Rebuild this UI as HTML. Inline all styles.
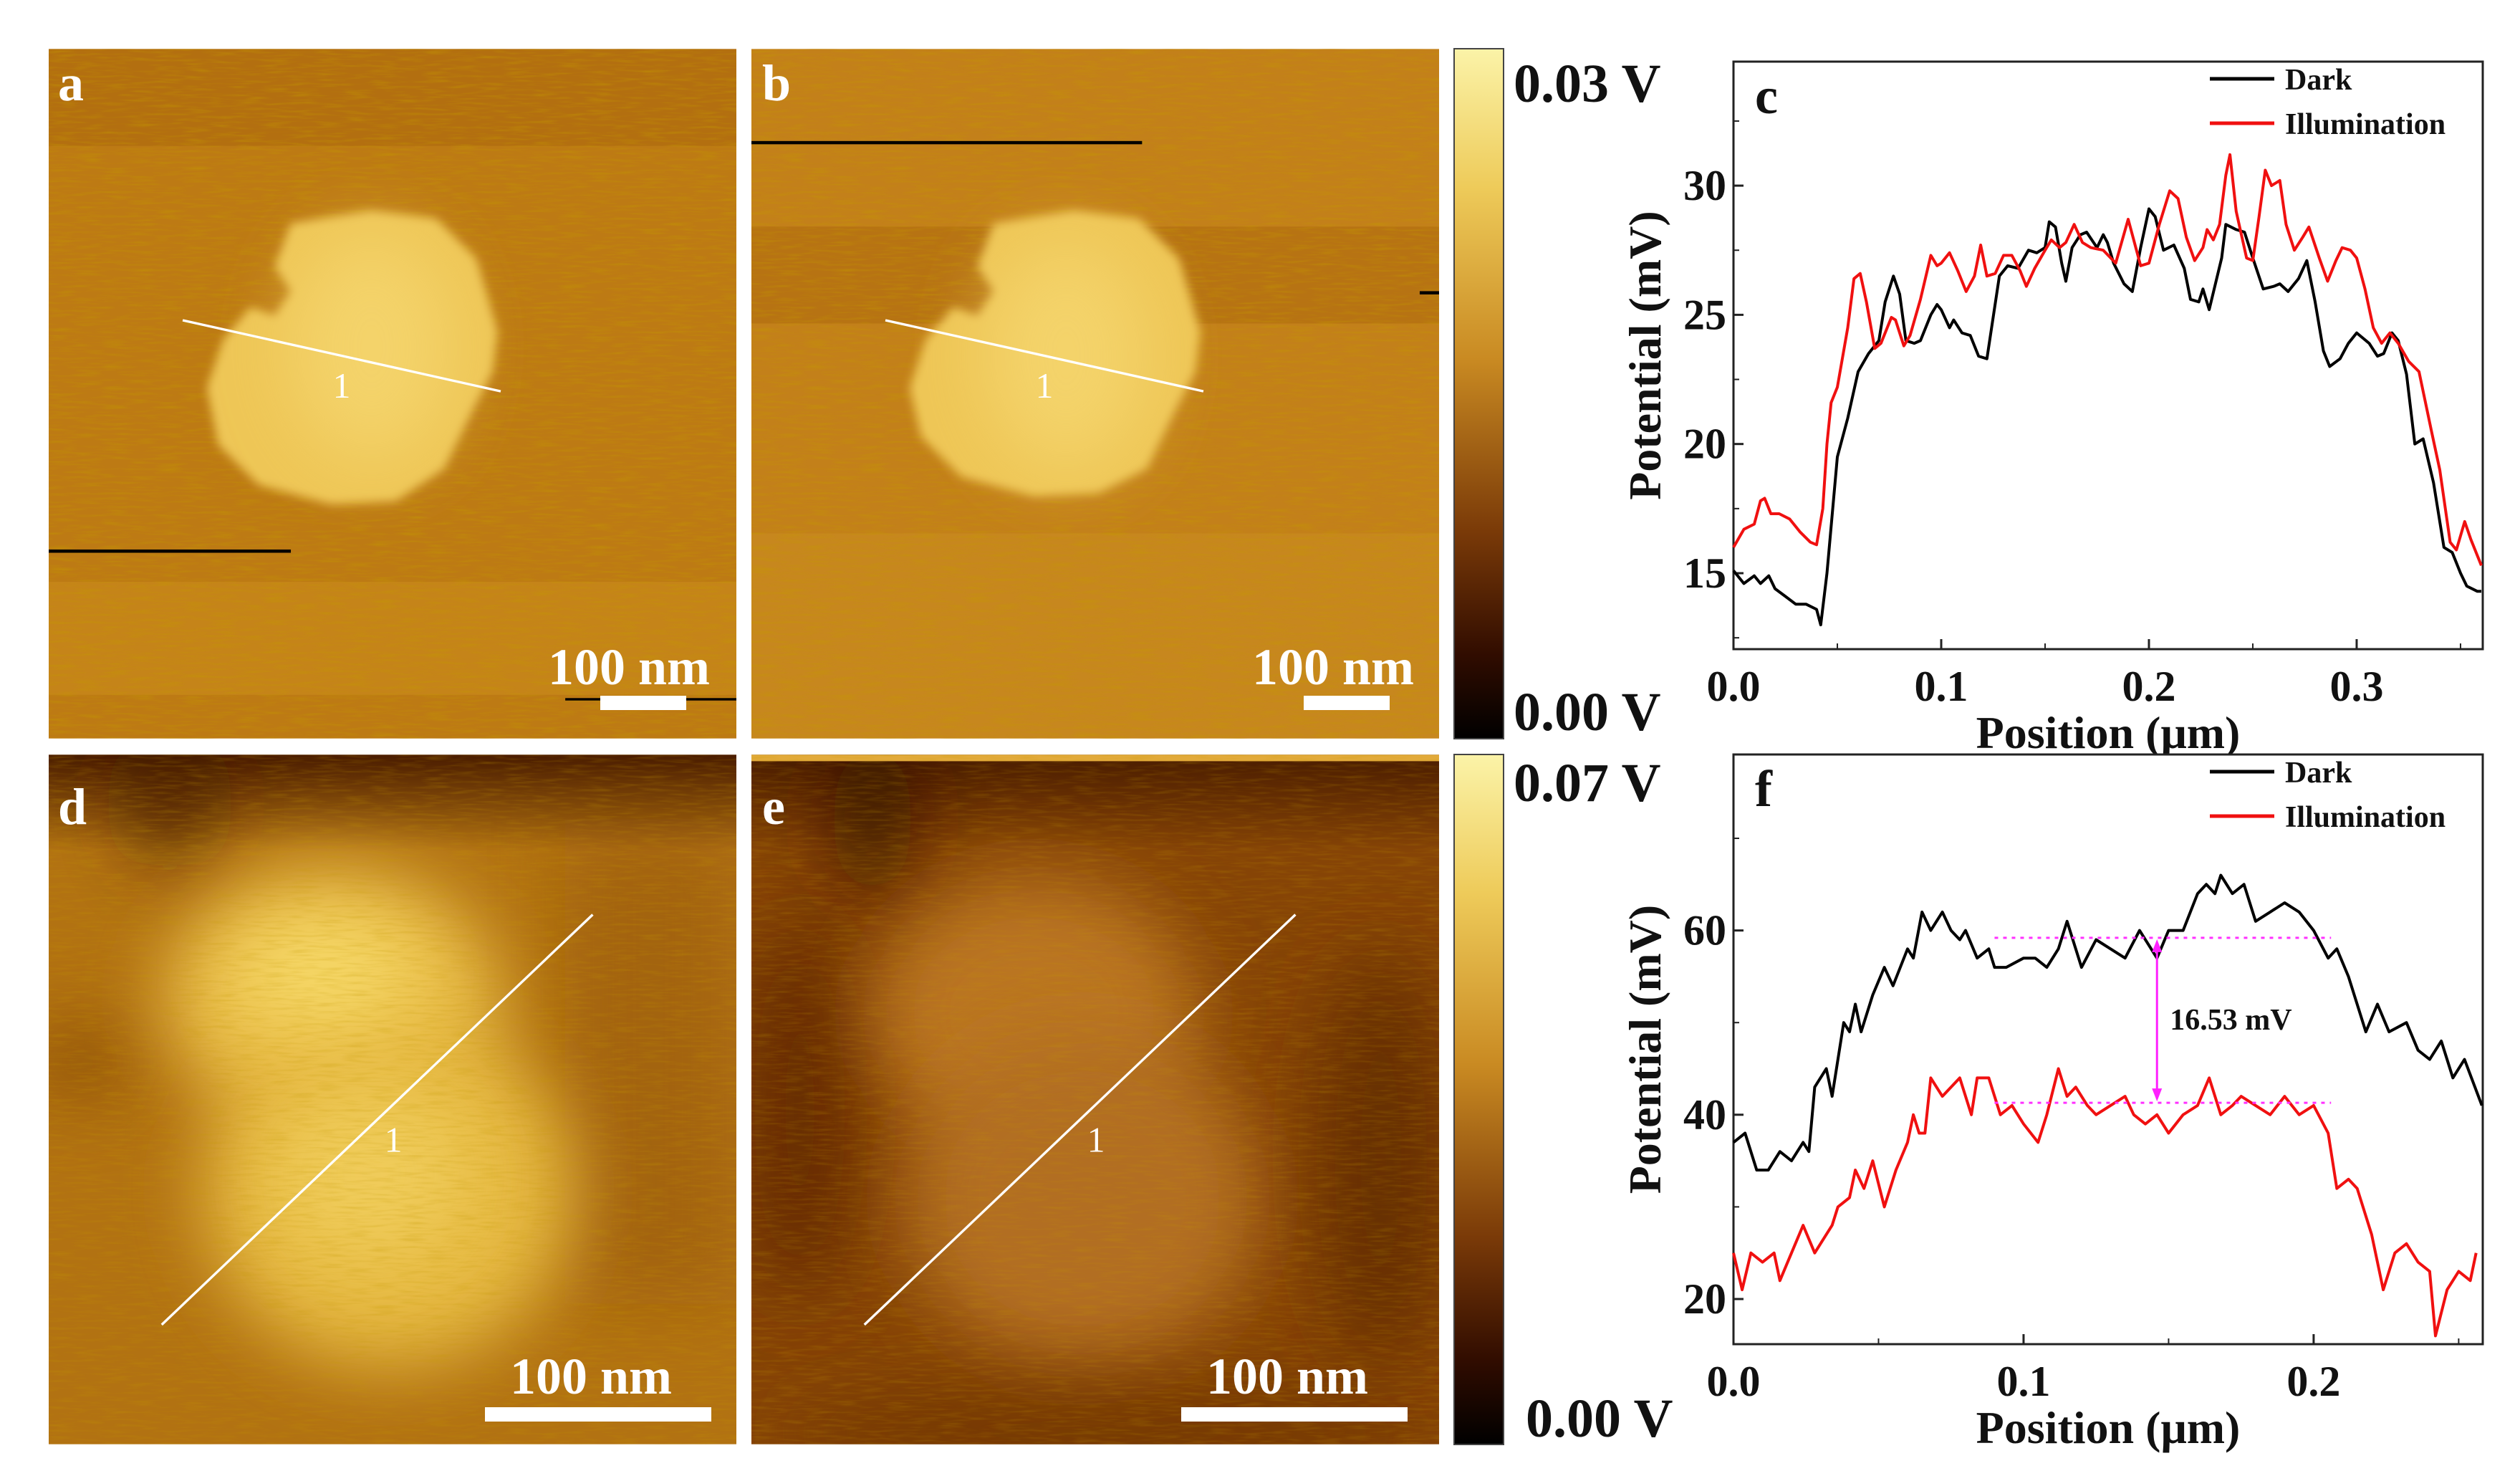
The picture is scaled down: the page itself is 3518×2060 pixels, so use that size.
<!DOCTYPE html>
<html><head><meta charset="utf-8"><style>
html,body{margin:0;padding:0;background:#fff;}
svg{display:block;font-family:"Liberation Serif",serif;font-weight:bold;}
</style></head><body>
<svg id="root" width="3518" height="2060" viewBox="0 0 3518 2060" xmlns="http://www.w3.org/2000/svg">
<defs>
<filter id="soft" x="-20%" y="-20%" width="140%" height="140%"><feGaussianBlur stdDeviation="3"/></filter>
<filter id="vsoft" x="-100%" y="-100%" width="300%" height="300%"><feGaussianBlur stdDeviation="22"/></filter>
<filter id="streak" x="0" y="0" width="100%" height="100%">
<feTurbulence type="fractalNoise" baseFrequency="0.06 0.6" numOctaves="2" seed="3"/>
<feColorMatrix type="matrix" values="0 0 0 0 0.55  0 0 0 0 0.32  0 0 0 0 0  0 0 0 1.6 -0.7"/>
</filter>
<linearGradient id="cbar" x1="0" y1="0" x2="0" y2="1">
<stop offset="0" stop-color="#fbf3a8"/><stop offset="0.2" stop-color="#eecb5a"/>
<stop offset="0.45" stop-color="#c98a22"/><stop offset="0.7" stop-color="#7a3a08"/>
<stop offset="0.88" stop-color="#300c00"/><stop offset="1" stop-color="#000"/>
</linearGradient>
<linearGradient id="topdarkD" x1="0" y1="0" x2="0" y2="1">
<stop offset="0" stop-color="#4a1c00"/><stop offset="1" stop-color="#4a1c00" stop-opacity="0"/>
</linearGradient>
</defs>

<!-- Panel a -->
<g>
<svg x="68" y="68" width="960" height="963" viewBox="0 0 426 427">
<rect width="426" height="427" fill="#bd7a14"/>
<rect y="0" width="426" height="60" fill="#a9640c" opacity="0.5"/>
<rect y="330" width="426" height="70" fill="#c98a1c" opacity="0.6"/>
<rect width="426" height="427" filter="url(#streak)" opacity="0.6"/>
<path d="M150,108 L200,100 L240,105 L265,130 L278,175 L275,200 L262,225 L245,260 L215,280 L175,282 L130,270 L105,245 L98,210 L108,180 L125,160 L140,165 L150,150 L140,135 Z" fill="#eec657" filter="url(#soft)"/>
<ellipse cx="200" cy="185" rx="50" ry="70" fill="#f8dc78" opacity="0.6" filter="url(#vsoft)"/>
<rect x="0" y="310" width="150" height="2" fill="#000"/>
<line x1="83" y1="168" x2="280" y2="212" stroke="#fff" stroke-width="1.5"/>
<text x="176" y="216" font-size="22" fill="#fff" font-weight="normal">1</text>
<rect x="320" y="402" width="106" height="1.5" fill="#000"/>
</svg>
<text x="81" y="140" font-size="72" fill="#fff">a</text>
<text x="765" y="955" font-size="72" fill="#fff">100 nm</text>
<rect x="838" y="971" width="120" height="20" fill="#fff"/>
</g>

<!-- Panel b -->
<g>
<svg x="1049" y="68" width="960" height="963" viewBox="0 0 426 427">
<rect width="426" height="427" fill="#c3801a"/>
<rect y="110" width="426" height="60" fill="#a9640c" opacity="0.45"/>
<rect y="300" width="426" height="127" fill="#cc8e22" opacity="0.5"/>
<rect width="426" height="427" filter="url(#streak)" opacity="0.6"/>
<path d="M150,108 L200,100 L240,105 L265,130 L278,175 L275,200 L262,225 L245,260 L215,275 L175,277 L130,265 L105,240 L98,210 L108,180 L125,160 L140,165 L150,150 L140,135 Z" fill="#eec657" filter="url(#soft)"/>
<ellipse cx="195" cy="190" rx="50" ry="70" fill="#f8dc78" opacity="0.6" filter="url(#vsoft)"/>
<rect x="0" y="57" width="242" height="2" fill="#000"/>
<rect x="414" y="150" width="12" height="2" fill="#000"/>
<line x1="83" y1="168" x2="280" y2="212" stroke="#fff" stroke-width="1.5"/>
<text x="176" y="216" font-size="22" fill="#fff" font-weight="normal">1</text>
</svg>
<text x="1064" y="140" font-size="72" fill="#fff">b</text>
<text x="1748" y="955" font-size="72" fill="#fff">100 nm</text>
<rect x="1820" y="971" width="120" height="20" fill="#fff"/>
</g>

<!-- Panel d -->
<g>
<svg x="68" y="1053" width="960" height="963" viewBox="0 0 426 427">
<rect width="426" height="427" fill="#b27212"/>
<rect x="320" y="40" width="106" height="300" fill="#9a5a0a" opacity="0.6" filter="url(#vsoft)"/>
<rect y="0" width="426" height="60" fill="url(#topdarkD)"/>
<ellipse cx="75" cy="30" rx="25" ry="40" fill="#3a1200" opacity="0.7" filter="url(#vsoft)"/>
<ellipse cx="20" cy="190" rx="30" ry="25" fill="#7a3e06" opacity="0.6" filter="url(#vsoft)"/>
<ellipse cx="175" cy="150" rx="105" ry="80" fill="#e9bd48" filter="url(#vsoft)"/>
<ellipse cx="210" cy="270" rx="115" ry="110" fill="#e6b943" filter="url(#vsoft)"/>
<ellipse cx="170" cy="135" rx="55" ry="35" fill="#f6d868" filter="url(#vsoft)"/>
<ellipse cx="200" cy="260" rx="60" ry="55" fill="#f2d060" opacity="0.8" filter="url(#vsoft)"/>
<rect width="426" height="427" filter="url(#streak)" opacity="0.35"/>
<line x1="70" y1="353" x2="337" y2="99" stroke="#fff" stroke-width="1.5"/>
<text x="208" y="246" font-size="22" fill="#fff" font-weight="normal">1</text>
</svg>
<text x="81" y="1150" font-size="72" fill="#fff">d</text>
<text x="712" y="1945" font-size="72" fill="#fff">100 nm</text>
<rect x="677" y="1964" width="316" height="20" fill="#fff"/>
</g>

<!-- Panel e -->
<g>
<svg x="1049" y="1053" width="960" height="963" viewBox="0 0 426 427">
<rect width="426" height="427" fill="#864406"/>
<rect y="0" width="426" height="60" fill="url(#topdarkD)"/>
<ellipse cx="30" cy="220" rx="35" ry="120" fill="#5a2404" opacity="0.7" filter="url(#vsoft)"/>
<ellipse cx="75" cy="40" rx="25" ry="50" fill="#2a0c00" opacity="0.7" filter="url(#vsoft)"/>
<ellipse cx="175" cy="160" rx="100" ry="85" fill="#ba7424" filter="url(#vsoft)"/>
<ellipse cx="205" cy="275" rx="110" ry="105" fill="#b26e20" filter="url(#vsoft)"/>
<ellipse cx="390" cy="250" rx="40" ry="130" fill="#5a2604" opacity="0.7" filter="url(#vsoft)"/>
<ellipse cx="220" cy="420" rx="200" ry="30" fill="#6a3004" opacity="0.6" filter="url(#vsoft)"/>
<rect y="0" width="426" height="4" fill="#e2aa3a"/>
<rect width="426" height="427" filter="url(#streak)" opacity="0.3"/>
<line x1="70" y1="353" x2="337" y2="99" stroke="#fff" stroke-width="1.5"/>
<text x="208" y="246" font-size="22" fill="#fff" font-weight="normal">1</text>
</svg>
<text x="1064" y="1150" font-size="72" fill="#fff">e</text>
<text x="1684" y="1945" font-size="72" fill="#fff">100 nm</text>
<rect x="1649" y="1964" width="316" height="20" fill="#fff"/>
</g>

<!-- Colorbars -->
<rect x="2030" y="68" width="69" height="963" fill="url(#cbar)" stroke="#444" stroke-width="2"/>
<rect x="2030" y="1053" width="69" height="963" fill="url(#cbar)" stroke="#444" stroke-width="2"/>
<text x="2113" y="142" font-size="76" fill="#111">0.03 V</text>
<text x="2113" y="1019" font-size="76" fill="#111">0.00 V</text>
<text x="2113" y="1118" font-size="76" fill="#111">0.07 V</text>
<text x="2130" y="2005" font-size="76" fill="#111">0.00 V</text>

<g id="chartC"></g>
<g id="chartF"></g>
</svg>
<script>
const cDarkX=[0,.005,.01,.013,.017,.02,.025,.03,.035,.04,.042,.045,.05,.055,.06,.065,.07,.073,.077,.08,.083,.087,.09,.095,.098,.1,.104,.106,.11,.114,.118,.122,.128,.132,.137,.142,.146,.15,.152,.155,.158,.16,.163,.167,.17,.175,.178,.18,.183,.188,.192,.196,.2,.203,.207,.212,.217,.22,.224,.226,.229,.235,.237,.242,.246,.25,.255,.26,.263,.267,.272,.276,.28,.284,.287,.292,.296,.3,.306,.31,.313,.317,.32,.324,.328,.332,.337,.342,.346,.35,.353,.358,.36];
const cDarkY=[15.1,14.6,14.9,14.6,14.9,14.4,14.1,13.8,13.8,13.6,13.0,15,19.5,21,22.8,23.5,24,25.5,26.5,25.8,24,23.9,24,25,25.4,25.2,24.5,24.8,24.3,24.2,23.4,23.3,26.5,26.9,26.8,27.5,27.4,27.6,28.6,28.4,27.0,26.3,27.6,28.1,28.2,27.6,28.1,27.8,27.0,26.2,25.9,27.6,29.1,28.8,27.5,27.7,26.8,25.6,25.5,26.0,25.2,27.2,28.5,28.3,28.2,27.2,26.0,26.1,26.2,25.9,26.4,27.1,25.5,23.6,23.0,23.3,23.9,24.3,23.9,23.4,23.5,24.3,24.0,22.7,20.0,20.2,18.5,16.0,15.8,15.0,14.5,14.3,14.3];
const cIllX=[0,.005,.01,.013,.015,.018,.022,.027,.032,.037,.04,.043,.045,.047,.05,.055,.058,.061,.064,.068,.071,.076,.078,.082,.085,.09,.095,.098,.1,.104,.108,.112,.116,.119,.122,.126,.13,.134,.138,.141,.145,.15,.153,.157,.16,.164,.168,.172,.178,.184,.19,.193,.196,.2,.205,.21,.214,.218,.222,.226,.228,.231,.234,.237,.239,.242,.247,.25,.253,.256,.259,.263,.266,.27,.274,.277,.282,.286,.29,.293,.297,.3,.304,.308,.312,.316,.32,.325,.33,.336,.34,.345,.348,.352,.355,.36];
const cIllY=[16.0,16.7,16.9,17.8,17.9,17.3,17.3,17.1,16.6,16.2,16.1,17.5,20,21.6,22.2,24.5,26.4,26.6,25.5,23.7,23.9,24.9,24.8,23.8,24.2,25.6,27.3,26.9,27.0,27.4,26.7,25.9,26.5,27.7,26.5,26.6,27.3,27.3,26.7,26.1,26.8,27.5,27.9,27.6,27.8,28.5,27.8,27.6,27.5,27.0,28.7,27.8,26.9,27.0,28.5,29.8,29.5,28.0,27.1,27.6,28.3,27.9,28.5,30.4,31.2,29.0,27.2,27.1,28.8,30.6,30.0,30.2,28.5,27.5,28.0,28.4,27.2,26.3,27.1,27.6,27.5,27.2,26.0,24.5,23.9,24.3,23.9,23.2,22.8,20.5,19,16.2,15.9,17.0,16.3,15.3];
const cXTicks=[0,0.1,0.2,0.3];
const cXLabels=["0.0","0.1","0.2","0.3"];
const cYTicks=[15,20,25,30];
const cYLabels=["15","20","25","30"];

const fDarkX=[0,.004,.008,.012,.016,.02,.024,.026,.028,.032,.034,.038,.04,.042,.044,.048,.052,.055,.06,.062,.065,.068,.072,.075,.078,.08,.084,.088,.09,.094,.1,.104,.108,.112,.115,.12,.125,.13,.135,.14,.146,.15,.155,.16,.163,.166,.168,.172,.176,.18,.185,.19,.195,.2,.205,.208,.212,.218,.222,.226,.232,.236,.24,.244,.248,.252,.258];
const fDarkY=[37,38,34,34,36,35,37,36,43,45,42,50,49,52,49,53,56,54,58,57,62,60,62,60,59,60,57,58,56,56,57,57,56,58,61,56,59,58,57,60,57,60,60,64,65,64,66,64,65,61,62,63,62,60,57,58,55,49,52,49,50,47,46,48,44,46,41];
const fIllX=[0,.003,.006,.01,.014,.016,.02,.024,.028,.03,.034,.036,.04,.042,.045,.048,.052,.056,.06,.062,.064,.066,.068,.072,.078,.082,.084,.088,.092,.096,.1,.105,.108,.112,.115,.118,.122,.125,.13,.135,.138,.142,.146,.15,.155,.16,.164,.168,.172,.175,.18,.185,.19,.195,.2,.205,.208,.212,.215,.22,.224,.228,.232,.236,.24,.242,.246,.25,.254,.256];
const fIllY=[25,21,25,24,25,22,25,28,25,26,28,30,31,34,32,35,30,34,37,40,38,38,44,42,44,40,44,44,40,41,39,37,40,45,42,43,41,40,41,42,40,39,40,38,40,41,44,40,41,42,41,40,42,40,41,38,32,33,32,27,21,25,26,24,23,16,21,23,22,25];
const fXTicks=[0,0.1,0.2];
const fXLabels=["0.0","0.1","0.2"];
const fYTicks=[20,40,60];
const fYLabels=["20","40","60"];
const fLevels=[59.2,41.3];
const fLevelRange=[0.09,0.206];
const fArrowX=0.146;
const fDiffLabel="16.53 mV";

const NS="http://www.w3.org/2000/svg";
function mk(parent,tag,attrs,text){const e=document.createElementNS(NS,tag);for(const k in attrs)e.setAttribute(k,attrs[k]);if(text!==undefined)e.textContent=text;parent.appendChild(e);return e;}

function drawChart(g,box,xd,yd,xt,xl,xminor,yt,yl,yminor,series,letter){
  const sx=v=>box.x0+(v-xd[0])/(xd[1]-xd[0])*(box.x1-box.x0);
  const sy=v=>box.y1-(v-yd[0])/(yd[1]-yd[0])*(box.y1-box.y0);
  const frame=mk(g,'rect',{x:box.x0,y:box.y0,width:box.x1-box.x0,height:box.y1-box.y0,fill:'#fff',stroke:'#222','stroke-width':3});
  
  
  xt.forEach((t,i)=>{
    mk(g,'line',{x1:sx(t),x2:sx(t),y1:box.y1,y2:box.y1-14,stroke:'#222','stroke-width':3});
    const tx=mk(g,'text',{x:sx(t),y:box.y1+72,'font-size':60,'text-anchor':'middle',fill:'#111'},xl[i]);
    
    
  });
  xminor.forEach(t=>mk(g,'line',{x1:sx(t),x2:sx(t),y1:box.y1,y2:box.y1-8,stroke:'#222','stroke-width':2}));
  yt.forEach((t,i)=>{
    mk(g,'line',{x1:box.x0,x2:box.x0+14,y1:sy(t),y2:sy(t),stroke:'#222','stroke-width':3});
    const ty=mk(g,'text',{x:box.x0-10,y:sy(t)+20,'font-size':60,'text-anchor':'end',fill:'#111'},yl[i]);
    
    
  });
  yminor.forEach(t=>mk(g,'line',{x1:box.x0,x2:box.x0+8,y1:sy(t),y2:sy(t),stroke:'#222','stroke-width':2}));
  series.forEach(s=>{
    const d=s.x.map((v,i)=>(i?'L':'M')+sx(v).toFixed(1)+','+sy(s.y[i]).toFixed(1)).join('');
    const p=mk(g,'path',{d:d,fill:'none',stroke:s.color,'stroke-width':4,'stroke-linejoin':'round'});
    
    
  });
  const xtitle=mk(g,'text',{x:(box.x0+box.x1)/2,y:box.y1+138,'font-size':64,'text-anchor':'middle',fill:'#111'},'Position (\u03bcm)');
  
  
  const cy=(box.y0+box.y1)/2;
  const ytitle=mk(g,'text',{x:2318,y:cy,'font-size':64,'text-anchor':'middle',fill:'#111',transform:'rotate(-90 2318 '+cy+')'},'Potential (mV)');
  
  
  const lt=mk(g,'text',{x:box.x0+30,y:box.y0+72,'font-size':72,fill:'#111'},letter);
  
  
  const leg=mk(g,'g',{});
  
  
  series.forEach((s,i)=>{
    const ly=box.y0+24+i*62;
    mk(leg,'line',{x1:3085,x2:3175,y1:ly,y2:ly,stroke:s.color,'stroke-width':5});
    const t=mk(leg,'text',{x:3190,y:ly+15,'font-size':42,fill:'#111'},s.label);
    
    
  });
  return {sx,sy};
}

const gc=document.getElementById('chartC');
drawChart(gc,{x0:2420,x1:3466,y0:86,y1:906},[0,0.3607],[12.06,34.8],cXTicks,cXLabels,[0.05,0.15,0.25,0.35],cYTicks,cYLabels,[12.5,17.5,22.5,27.5,32.5],
 [{x:cDarkX,y:cDarkY,color:'#000',name:'line-dark',label:'Dark'},{x:cIllX,y:cIllY,color:'#f01010',name:'line-illumination',label:'Illumination'}],'c');

const gf=document.getElementById('chartF');
const af=drawChart(gf,{x0:2420,x1:3466,y0:1053,y1:1876},[0,0.2583],[15.1,79.1],fXTicks,fXLabels,[0.05,0.15,0.25],fYTicks,fYLabels,[30,50,70],
 [{x:fDarkX,y:fDarkY,color:'#000',name:'line-dark',label:'Dark'},{x:fIllX,y:fIllY,color:'#f01010',name:'line-illumination',label:'Illumination'}],'f');
fLevels.forEach(l=>{
  const ln=mk(gf,'line',{x1:af.sx(fLevelRange[0]),x2:af.sx(fLevelRange[1]),y1:af.sy(l),y2:af.sy(l),stroke:'#ff30ff','stroke-width':3,'stroke-dasharray':'5 7'});
  
  
});
const ar=mk(gf,'line',{x1:af.sx(fArrowX),x2:af.sx(fArrowX),y1:af.sy(fLevels[0])+6,y2:af.sy(fLevels[1])-6,stroke:'#ff20ff','stroke-width':3});


mk(gf,'path',{d:`M${af.sx(fArrowX)-7},${af.sy(fLevels[0])+20}L${af.sx(fArrowX)},${af.sy(fLevels[0])+2}L${af.sx(fArrowX)+7},${af.sy(fLevels[0])+20}Z`,fill:'#ff20ff'});
mk(gf,'path',{d:`M${af.sx(fArrowX)-7},${af.sy(fLevels[1])-20}L${af.sx(fArrowX)},${af.sy(fLevels[1])-2}L${af.sx(fArrowX)+7},${af.sy(fLevels[1])-20}Z`,fill:'#ff20ff'});
const dl=mk(gf,'text',{x:af.sx(fArrowX)+18,y:af.sy(50)+10,'font-size':42,fill:'#111'},fDiffLabel);


</script>
</body></html>
